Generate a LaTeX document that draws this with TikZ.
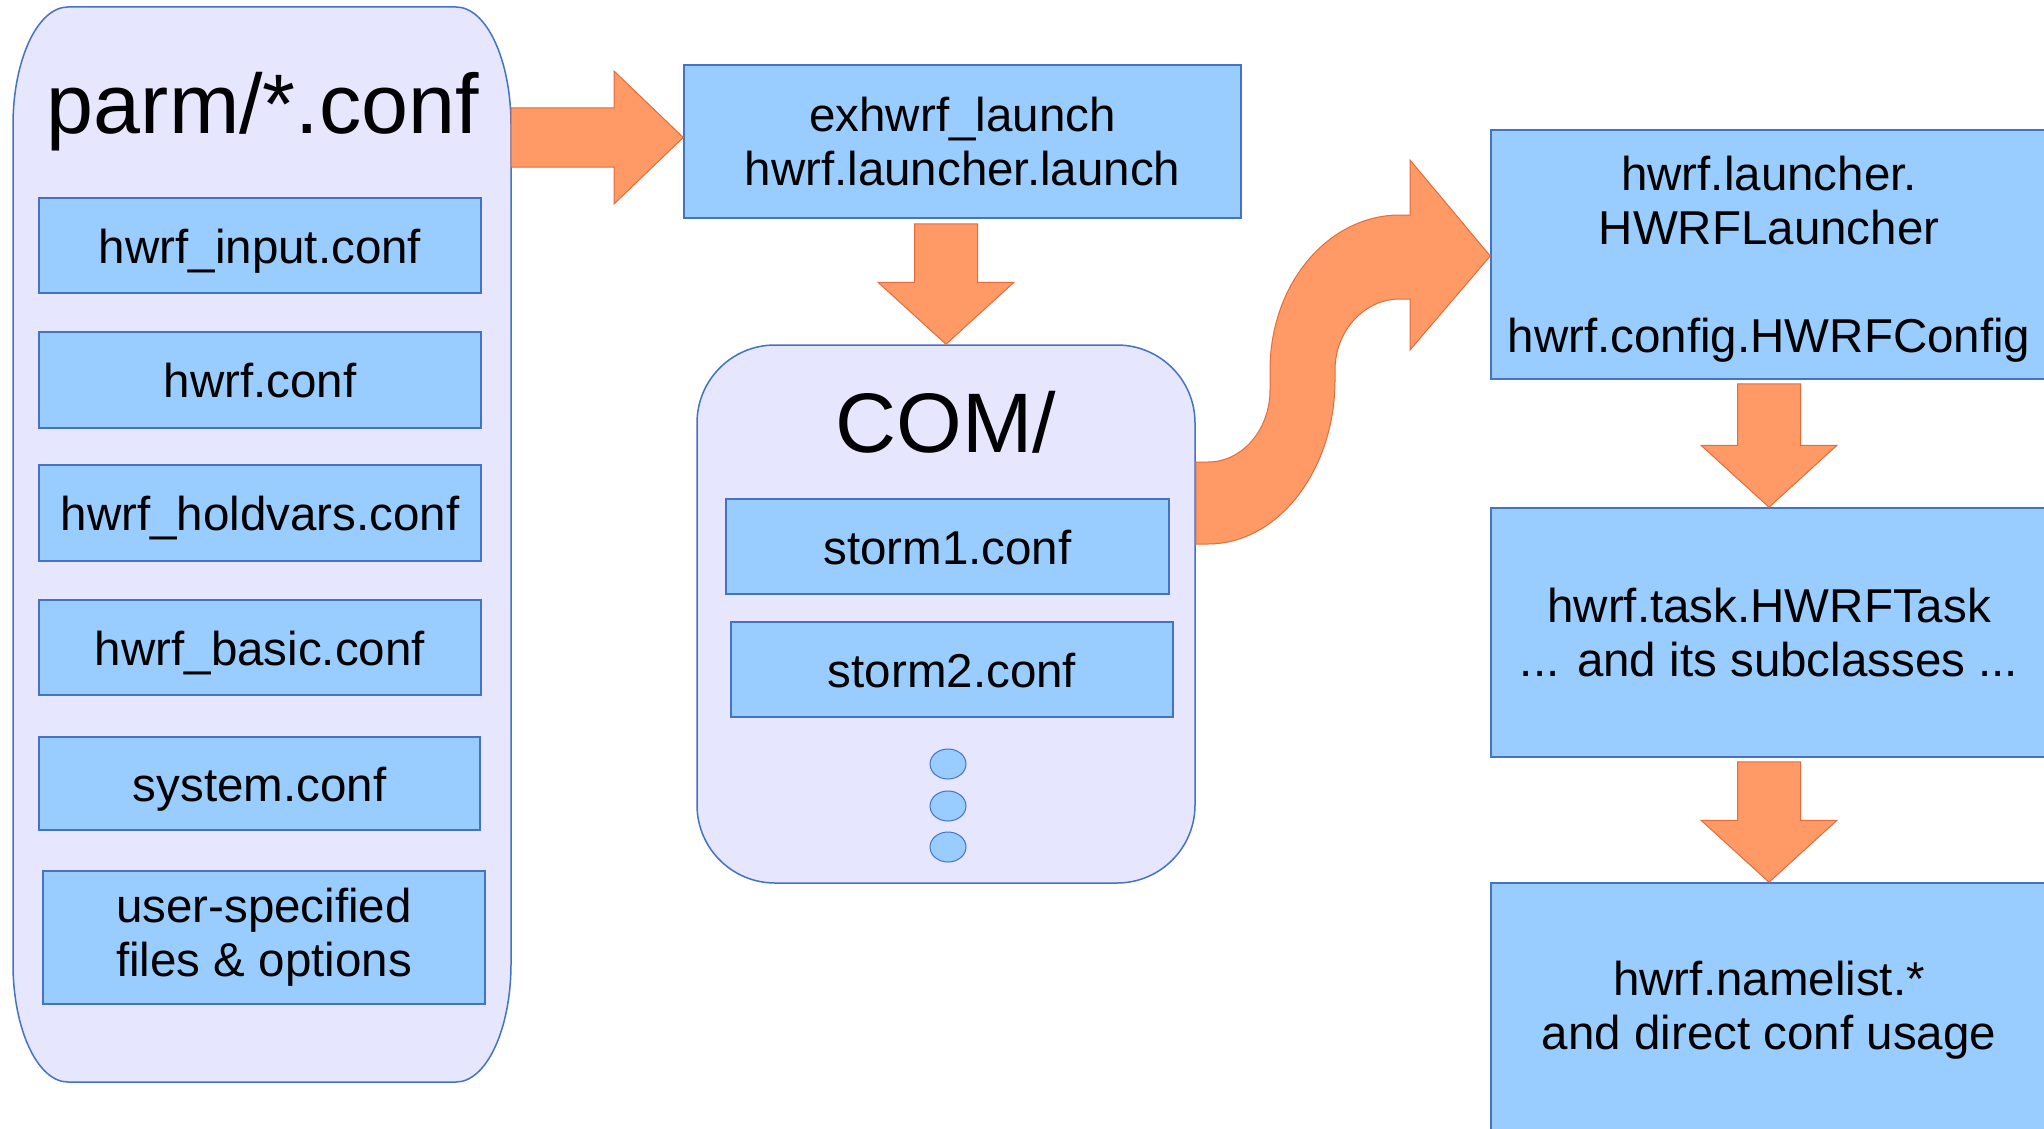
\documentclass[tikz,border=0pt]{standalone}
\usepackage{fontspec}
\setmainfont{Liberation Sans}
\usetikzlibrary{shapes.geometric,calc}
\definecolor{boxblue}{RGB}{153,204,255}
\definecolor{edgeblue}{RGB}{68,114,196}
\definecolor{lavender}{RGB}{230,230,255}
\definecolor{arrowfill}{RGB}{255,153,102}
\definecolor{arrowedge}{RGB}{228,108,58}

% vertical block arrow: #1 top of the shaft, #2 tip (same x)
\newcommand{\downblock}[2]{%
  \draw[blockarrow] ($(#1)+(-31.5,0)$) -- ($(#2)+(-31.5,-62)$) -- ($(#2)+(-68,-62)$)
    -- (#2) -- ($(#2)+(68,-62)$) -- ($(#2)+(31.5,-62)$) -- ($(#1)+(31.5,0)$) -- cycle;}

\begin{document}
\begin{tikzpicture}[x=1pt,y=-1pt,
  bodyfont/.style={font=\fontsize{47.5}{54}\selectfont},
  titlefont/.style={font=\fontsize{84.5}{96}\selectfont},
  fbox/.style={rectangle, draw=edgeblue, fill=boxblue, line width=1.5pt, inner sep=0pt,
    bodyfont, text height=35pt, text depth=0pt},
  mbox/.style={rectangle, draw=edgeblue, fill=boxblue, line width=1.5pt, inner sep=0pt,
    bodyfont, align=center},
  container/.style={draw=edgeblue, fill=lavender, line width=1.5pt},
  blockarrow/.style={fill=arrowfill, draw=arrowedge, line width=1pt, line join=miter},
  dot/.style={ellipse, draw=edgeblue, fill=boxblue, line width=1pt,
    minimum width=36pt, minimum height=30pt, inner sep=0pt}
]
\useasboundingbox (0,0) rectangle (2044,1129);
\fill[white] (0,0) rectangle (2044,1129);
\clip (0,0) rectangle (2044,1129);

% ---- parm/*.conf container (elliptical corners, rx 55, ry 118) ----
\draw[container] (68,7) -- (456,7) .. controls (486.4,7) and (511,59.9) .. (511,125)
  -- (511,964) .. controls (511,1029.1) and (486.4,1082) .. (456,1082)
  -- (68,1082) .. controls (37.6,1082) and (13,1029.1) .. (13,964)
  -- (13,125) .. controls (13,59.9) and (37.6,7) .. (68,7) -- cycle;
\coordinate (parmE) at (511,137.5);
\node[titlefont, anchor=base] (parmtitle) at (263,134) {parm/*.conf};

\node[fbox, minimum width=442pt, minimum height=95pt] (input)    at (260,245.5) {hwrf\_input.conf};
\node[fbox, minimum width=442pt, minimum height=96pt] (hwrf)     at (260,380)   {hwrf.conf};
\node[fbox, minimum width=442pt, minimum height=96pt] (holdvars) at (260,513)   {hwrf\_holdvars.conf};
\node[fbox, minimum width=442pt, minimum height=95pt] (basic)    at (260,647.5) {hwrf\_basic.conf};
\node[fbox, minimum width=441pt, minimum height=93pt] (system)   at (259.5,783.5) {system.conf};
\node[mbox, minimum width=442pt, minimum height=133pt] (user)    at (264,937.5) {user-specified\\files \& options};

% ---- launcher ----
\node[mbox, minimum width=557pt, minimum height=153pt] (exh) at (962.5,141.5)
  {exhwrf\_launch\\hwrf.launcher.launch};

% ---- COM/ container ----
\node[draw=edgeblue, fill=lavender, line width=1.5pt, rounded corners=78pt,
  minimum width=498pt, minimum height=538pt] (com) at (946,614) {};
\node[titlefont, anchor=base] (comtitle) at (946,452) {COM/};
\node[fbox, minimum width=443pt, minimum height=95pt] (storm1) at (947.5,546.5) {storm1.conf};
\node[fbox, minimum width=442pt, minimum height=95pt] (storm2) at (952,669.5) {storm2.conf};
\node[dot] (d1) at (948,764) {};
\node[dot] (d2) at (948,806) {};
\node[dot] (d3) at (948,847) {};

% ---- right column ----
\node[mbox, minimum width=556pt, minimum height=249pt] (launcher) at (1769,254.5)
  {\rule{0pt}{43pt}hwrf.launcher.\\HWRFLauncher\\[54pt]hwrf.config.HWRFConfig};
\node[mbox, minimum width=556pt, minimum height=249pt] (task) at (1769,632.5)
  {hwrf.task.HWRFTask\\... and its subclasses ...};
\node[mbox, minimum width=556pt, minimum height=254pt] (namelist) at (1769,1010)
  {hwrf.namelist.*\\and direct conf usage};

% ---- block arrows ----
\draw[blockarrow] ($(parmE)+(0,-29.5)$) -- ++(103,0) -- ++(0,-37) -- (exh.west |- parmE)
  -- ($(parmE)+(103,66.5)$) -- ++(0,-37) -- ($(parmE)+(0,29.5)$) -- cycle;

\coordinate (a1) at ($(com.north |- exh.south)+(0,5)$);
\downblock{a1}{com.north}

\coordinate (a2) at ($(launcher.south)+(0,4)$);
\downblock{a2}{task.north}

\coordinate (a3) at ($(task.south)+(0,4)$);
\downblock{a3}{namelist.north}

% S-shaped arrow from COM/ to the launcher class
\draw[blockarrow] (com.east |- 0,462) -- (1208,462)
  .. controls (1242,462) and (1270,430) .. (1270,390) -- (1270,370)
  .. controls (1270,284) and (1328,215) .. (1400,215) -- (1410,215) -- (1410,160)
  -- (launcher.west |- 0,256) -- (1410,350) -- (1410,299) -- (1400,299)
  .. controls (1364,299) and (1335,331) .. (1335,370) -- (1335,380)
  .. controls (1335,470.5) and (1278,544) .. (1208,544) -- (com.east |- 0,544) -- cycle;
\end{tikzpicture}
\end{document}
